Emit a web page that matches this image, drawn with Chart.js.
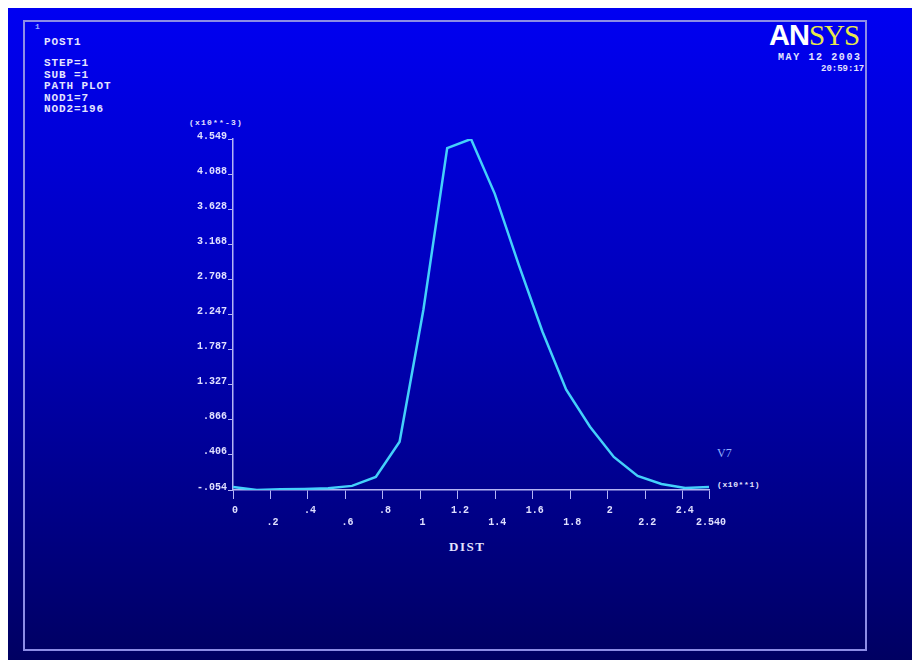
<!DOCTYPE html>
<html>
<head>
<meta charset="utf-8">
<script src="https://cdn.jsdelivr.net/npm/chart.js@4"></script>
<style>
  body { margin: 0; background: #fff; width: 912px; height: 660px; overflow: hidden; position: relative; }
  #bg { position: absolute; left: 8px; top: 8px; width: 904px; height: 652px;
        background: linear-gradient(to bottom, #0000f2 0%, #0000b4 50%, #000062 100%); }
  #frame { position: absolute; left: 23px; top: 20px; width: 840px; height: 627px;
           border: 2px solid #8c8ce6; }
  #wrap { position: absolute; left: 0; top: 0; }
  .t { position: absolute; font-family: "Liberation Mono", monospace; font-weight: bold;
       font-size: 11px; color: #e4e4ff; letter-spacing: 0.9px; white-space: pre; line-height: 11.5px; }
</style>
</head>
<body>
<div id="bg"></div>
<div id="frame"></div>
<div class="t" style="left:35px;top:21px;font-size:8px;color:#9ab0ff;">1</div>
<div class="t" style="left:44px;top:37px;">POST1</div>
<div class="t" style="left:44px;top:58px;">STEP=1
SUB =1
PATH PLOT
NOD1=7
NOD2=196</div>
<div style="position:absolute;left:769px;top:18px;font-size:29px;line-height:34px;letter-spacing:-1px;">
  <span style="font-family:'Liberation Sans',sans-serif;font-weight:bold;color:#ffffff;">AN</span><span style="font-family:'Liberation Serif',serif;color:#e8e84a;">SYS</span>
</div>
<div class="t" style="left:778px;top:52px;font-size:10px;letter-spacing:1.6px;">MAY 12 2003</div>
<div class="t" style="left:821px;top:64px;font-size:9px;letter-spacing:0px;">20:59:17</div>
<div class="t" style="left:189px;top:117px;font-size:8px;letter-spacing:1.2px;">(x10**-3)</div>
<div class="t" style="left:717px;top:448px;font-size:12px;font-weight:normal;color:#8fb0ff;font-family:'Liberation Serif',serif;letter-spacing:0;">V7</div>
<div class="t" style="left:717px;top:479px;font-size:8px;letter-spacing:0.6px;">(x10**1)</div>
<div class="t" style="left:449px;top:541px;font-size:13px;letter-spacing:1.5px;font-family:'Liberation Serif',serif;">DIST</div>
<div id="wrap"><canvas id="c" width="912" height="660"></canvas></div>
<script>
// path plot: 21 points along the path (ANSYS default 20 divisions)
const dist = [0, 0.127, 0.254, 0.381, 0.508, 0.635, 0.762, 0.889, 1.016, 1.143, 1.27,
              1.397, 1.524, 1.651, 1.778, 1.905, 2.032, 2.159, 2.286, 2.413, 2.54];
const uy = [-0.015, -0.054, -0.045, -0.04, -0.03, 0.0, 0.117, 0.578, 2.31, 4.43, 4.549,
            3.83, 2.906, 2.025, 1.262, 0.775, 0.38, 0.13, 0.025, -0.028, -0.015];

const xTickValues = [0, 0.2, 0.4, 0.6, 0.8, 1, 1.2, 1.4, 1.6, 1.8, 2, 2.2, 2.4, 2.54];
const xTickLabels = ['0', '.2', '.4', '.6', '.8', '1', '1.2', '1.4', '1.6', '1.8', '2', '2.2', '2.4', '2.540'];
const yTickValues = [-0.054, 0.406, 0.866, 1.327, 1.787, 2.247, 2.708, 3.168, 3.628, 4.088, 4.549];
const yTickLabels = ['-.054', '.406', '.866', '1.327', '1.787', '2.247', '2.708', '3.168', '3.628', '4.088', '4.549'];

const axisColor = '#b4b4f4';
const tickFont = { family: 'Liberation Mono', size: 10, weight: 'bold', lineHeight: 1.2 };

document.addEventListener('DOMContentLoaded', function() {
    const ctx = document.getElementById('c').getContext('2d');
    new Chart(ctx, {
        type: 'line',
        data: {
            datasets: [{
                data: dist.map((d, i) => ({ x: d, y: uy[i] })),
                borderColor: '#44d0fa',
                borderWidth: 2.5,
                pointRadius: 0,
                tension: 0,
                fill: false
            }]
        },
        options: {
            responsive: false,
            animation: false,
            devicePixelRatio: 1,
            layout: { padding: { left: 173, right: 203, top: 139, bottom: 120 } },
            plugins: { legend: { display: false }, tooltip: { enabled: false } },
            scales: {
                x: {
                    type: 'linear',
                    min: 0,
                    max: 2.54,
                    afterBuildTicks: s => { s.ticks = xTickValues.map(v => ({ value: v })); },
                    afterFit: s => { s.height = 50; },
                    border: { color: axisColor, width: 1.5 },
                    grid: { drawOnChartArea: false, color: axisColor, tickLength: 9 },
                    ticks: {
                        color: '#e0e0ff',
                        font: tickFont,
                        padding: 5,
                        labelOffset: 2,
                        maxRotation: 0,
                        autoSkip: false,
                        callback: (v, i) => i % 2 === 0 ? [xTickLabels[i], ''] : ['', xTickLabels[i]]
                    }
                },
                y: {
                    min: -0.054,
                    max: 4.549,
                    afterBuildTicks: s => { s.ticks = yTickValues.map(v => ({ value: v })); },
                    afterFit: s => { s.width = 60; },
                    border: { color: axisColor, width: 1.5 },
                    grid: { drawOnChartArea: false, color: axisColor, tickLength: 5 },
                    ticks: {
                        color: '#e0e0ff',
                        font: tickFont,
                        padding: 1,
                        labelOffset: -3,
                        autoSkip: false,
                        callback: (v, i) => yTickLabels[i]
                    }
                }
            }
        }
    });
});
</script>
</body>
</html>
